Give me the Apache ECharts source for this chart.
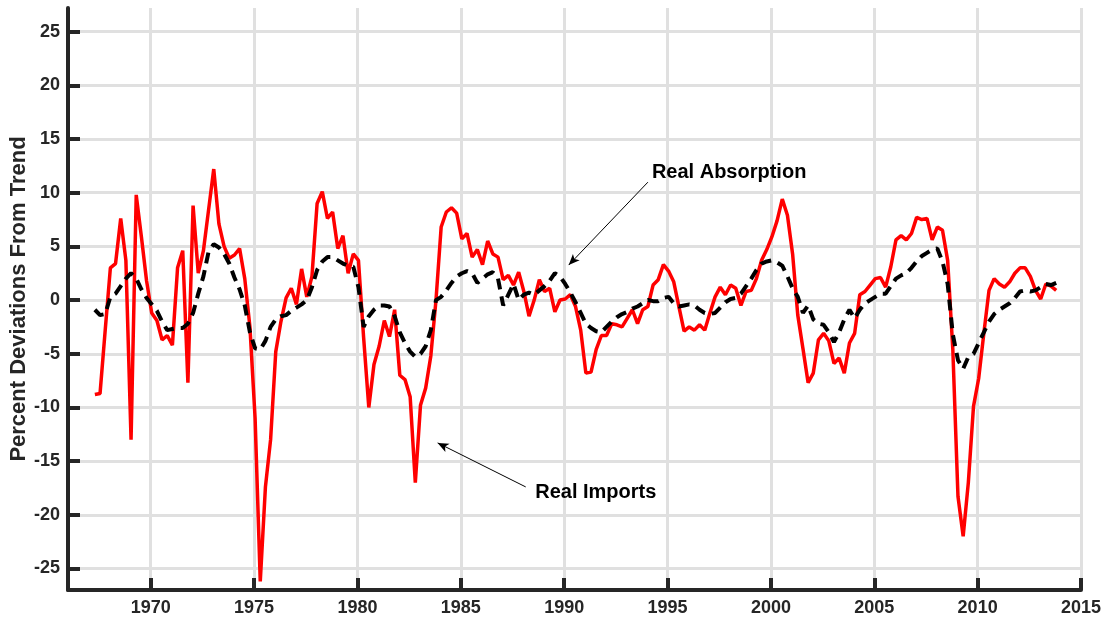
<!DOCTYPE html>
<html>
<head>
<meta charset="utf-8">
<script src="https://cdn.jsdelivr.net/npm/echarts@6/dist/echarts.min.js"></script>
<style>
  html, body { margin: 0; padding: 0; background: #fff; }
  #main { width: 1111px; height: 624px; }
</style>
</head>
<body>
<div id="main"></div>
<script>
// quarterly data, first point at 1967.3
var startYear = 1967.3;
var step = 0.25;

var realImports = [
  -8.8, -8.7, -2.8, 3.0, 3.4, 7.6, 3.7, -13.0, 9.8, 5.9,
  1.8, -1.2, -1.9, -3.7, -3.3, -4.2, 3.0, 4.6, -7.7, 8.8,
  2.5, 4.6, 8.4, 12.2, 7.1, 5.0, 3.9, 4.2, 4.8, 2.0,
  -2.5, -11.0, -26.2, -17.4, -13.0, -4.8, -2.0, 0.2, 1.1, -0.4,
  2.9, 0.3, 2.2, 9.0, 10.1, 7.6, 8.2, 4.8, 6.0, 2.5,
  4.3, 3.7, -3.5, -10.0, -6.0, -4.3, -1.9, -3.4, -0.9, -7.0,
  -7.4, -9.0, -17.0, -9.8, -8.2, -5.2, 0.0, 6.8, 8.2, 8.6,
  8.1, 5.7, 6.2, 4.0, 4.7, 3.3, 5.5, 4.3, 4.0, 1.9,
  2.3, 1.4, 2.6, 0.8, -1.5, 0.0, 1.9, 0.8, 1.1, -1.1,
  0.0, 0.1, 0.5, -0.6, -2.8, -6.8, -6.7, -4.6, -3.3, -3.3,
  -2.2, -2.3, -2.5, -1.7, -0.9, -2.2, -0.9, -0.6, 1.4, 1.9,
  3.3, 2.7, 1.7, -0.6, -2.9, -2.5, -2.8, -2.3, -2.8, -1.2,
  0.3, 1.2, 0.5, 1.4, 1.1, -0.5, 0.8, 0.9, 2.0, 3.7,
  4.7, 5.9, 7.4, 9.4, 7.9, 4.3, -1.4, -4.5, -7.7, -6.8,
  -3.7, -3.1, -3.8, -5.9, -5.4, -6.8, -4.0, -3.1, 0.5, 0.8,
  1.4, 2.0, 2.1, 1.2, 3.1, 5.6, 6.0, 5.6, 6.2, 7.7,
  7.5, 7.6, 5.6, 6.8, 6.5, 3.7, -4.6, -18.3, -22.0, -17.0,
  -9.9, -7.3, -3.1, 0.9, 2.0, 1.5, 1.2, 1.7, 2.5, 3.0,
  3.0, 2.2, 0.9, 0.1, 1.5, 1.3, 0.9
];

var realAbsorption = [
  -0.9, -1.4, -1.3, 0.3, 0.6, 1.3, 2.0, 2.5, 2.0, 1.0,
  0.2, -0.4, -1.0, -2.0, -2.8, -2.7, -2.6, -2.6, -2.2, -1.2,
  0.6, 2.2, 4.5, 5.2, 4.9, 4.3, 3.4, 2.1, 1.0, -0.5,
  -3.0, -4.5, -4.6, -3.8, -2.5, -1.8, -1.5, -1.4, -1.0, -0.7,
  -0.4, 0.0, 1.2, 2.8, 3.6, 4.0, 4.0, 3.7, 3.4, 3.2,
  3.1, 1.2, -2.5, -1.5, -0.9, -0.5, -0.5, -0.6, -1.5, -3.0,
  -4.0, -4.8, -5.3, -5.0, -4.3, -2.8, 0.0, 0.3, 0.9, 1.6,
  2.2, 2.5, 2.7, 2.5, 1.6, 2.0, 2.4, 2.6, 2.0, -0.5,
  0.5, 1.5, 0.0, 0.5, 0.7, 0.5, 0.9, 1.3, 1.8, 2.5,
  2.2, 1.5, 0.7, -0.2, -1.2, -2.2, -2.6, -2.9, -3.0, -2.5,
  -2.0, -1.6, -1.3, -1.1, -0.8, -0.6, -0.3, 0.0, -0.1, -0.1,
  0.2, 0.3, -0.3, -0.6, -0.5, -0.4, -0.5, -0.9, -1.2, -1.3,
  -1.2, -0.7, -0.2, 0.1, 0.2, 0.6, 1.3, 2.0, 2.8, 3.4,
  3.6, 3.7, 3.5, 3.2, 2.2, 1.1, 0.3, -1.2, -0.5, -1.8,
  -2.2, -2.3, -3.0, -3.9, -3.0, -1.8, -0.9, -1.7, -0.9, -0.3,
  0.0, 0.3, 0.6, 0.6, 1.3, 2.0, 2.3, 2.5, 3.0, 3.6,
  4.1, 4.4, 4.7, 4.8, 3.6, 1.5, -3.2, -5.6, -6.4, -5.3,
  -5.0, -4.0, -3.0, -2.0, -1.3, -0.9, -0.6, -0.3, 0.2, 0.8,
  0.9, 0.8, 0.9, 1.2, 1.5, 1.4, 1.6
];

var yearTicks = [1970, 1975, 1980, 1985, 1990, 1995, 2000, 2005, 2010, 2015];
var valueTicks = [-25, -20, -15, -10, -5, 0, 5, 10, 15, 20, 25];

function toPairs(values) {
  return values.map(function (v, i) {
    return [startYear + step * i, v];
  });
}

var myChart = echarts.init(document.getElementById('main'));
var font = '"Liberation Sans", Arial, sans-serif';
var axisColor = '#262626';

myChart.setOption({
  animation: false,
  backgroundColor: '#fff',
  grid: { left: 68, right: 30, top: 8, bottom: 34, containLabel: false, outerBoundsMode: 'none' },
  xAxis: {
    type: 'value',
    min: 1966,
    max: 2015,
    axisLine: { show: true, onZero: false, lineStyle: { color: axisColor, width: 4 } },
    axisTick: { show: true, inside: true, length: 12, customValues: yearTicks,
      lineStyle: { color: axisColor, width: 4 } },
    axisLabel: { customValues: yearTicks, margin: 9, color: axisColor,
      fontFamily: font, fontWeight: 'bold', fontSize: 18,
      formatter: function (v) { return String(v); } },
    splitLine: { show: true, lineStyle: { color: '#e0e0e0', width: 3 } }
  },
  yAxis: {
    type: 'value',
    min: -27,
    max: 27.2,
    name: 'Percent Deviations From Trend',
    nameLocation: 'middle',
    nameGap: 38,
    nameMoveOverlap: false,
    nameTextStyle: { color: axisColor, fontFamily: font, fontWeight: 'bold', fontSize: 22 },
    axisLine: { show: true, onZero: false, lineStyle: { color: axisColor, width: 4 } },
    axisTick: { show: true, inside: true, length: 12, customValues: valueTicks,
      lineStyle: { color: axisColor, width: 4 } },
    axisLabel: { customValues: valueTicks, margin: 8, color: axisColor,
      fontFamily: font, fontWeight: 'bold', fontSize: 18 },
    splitLine: { show: true, lineStyle: { color: '#e0e0e0', width: 3 } }
  },
  series: [
    {
      name: 'Real Imports',
      type: 'line',
      data: toPairs(realImports),
      showSymbol: false,
      lineStyle: { color: '#ff0000', width: 3.5 },
      markLine: {
        silent: true,
        symbol: ['none', 'arrow'],
        symbolSize: [7, 11],
        label: { show: false },
        lineStyle: { color: '#000', width: 1, type: 'solid' },
        data: [
          [{ coord: [1994.05, 10.98] }, { coord: [1990.22, 3.26] }],
          [{ coord: [1988.14, -17.4] }, { coord: [1983.88, -13.3] }]
        ]
      }
    },
    {
      name: 'Real Absorption',
      type: 'line',
      data: toPairs(realAbsorption),
      showSymbol: false,
      lineStyle: { color: '#000', width: 4, type: [11, 7] }
    }
  ]
});

// annotation texts placed in data coordinates
var absPos = myChart.convertToPixel({ gridIndex: 0 }, [1997.98, 11.9]);
var impPos = myChart.convertToPixel({ gridIndex: 0 }, [1991.53, -17.95]);
myChart.setOption({
  graphic: [
    { type: 'text', x: absPos[0], y: absPos[1],
      style: { text: 'Real Absorption', fill: '#000', font: 'bold 20px ' + font,
        textAlign: 'center', textVerticalAlign: 'middle' } },
    { type: 'text', x: impPos[0], y: impPos[1],
      style: { text: 'Real Imports', fill: '#000', font: 'bold 20px ' + font,
        textAlign: 'center', textVerticalAlign: 'middle' } }
  ]
});
</script>
</body>
</html>
